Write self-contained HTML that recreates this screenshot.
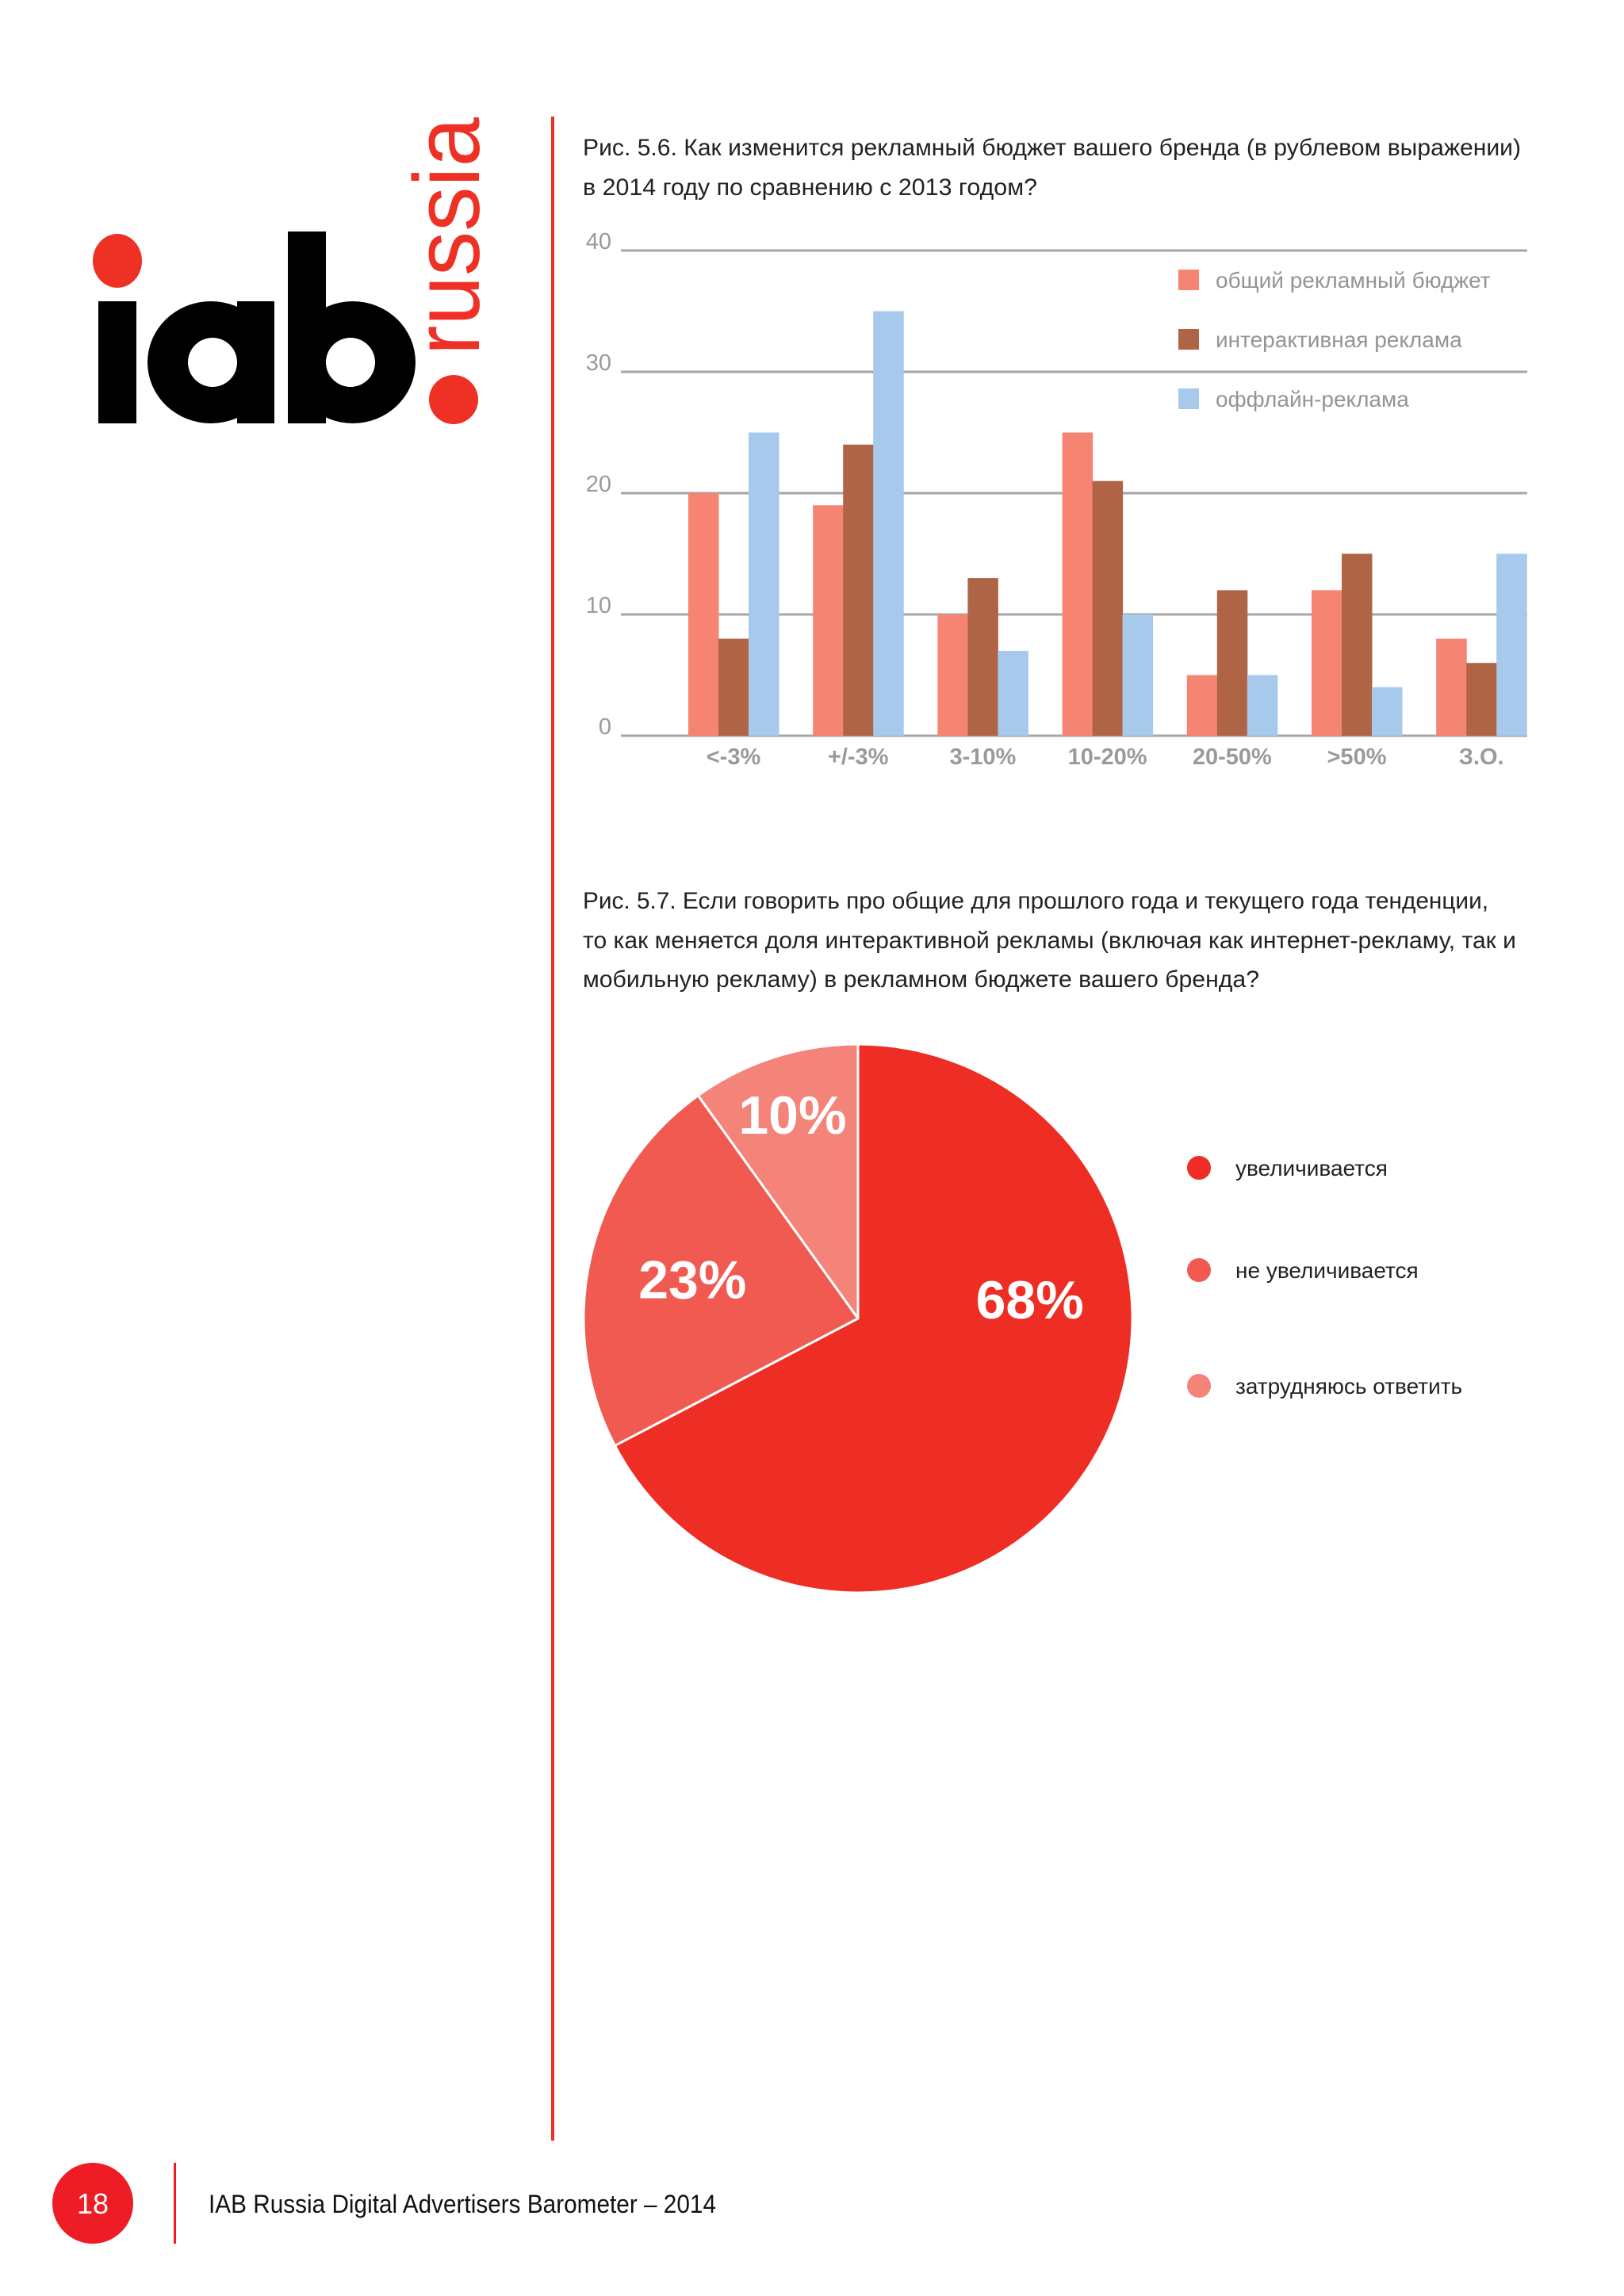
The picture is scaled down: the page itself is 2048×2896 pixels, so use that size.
<!DOCTYPE html>
<html><head><meta charset="utf-8">
<style>
html,body{margin:0;padding:0;background:#fff;}
svg{display:block;}
text{font-family:"Liberation Sans","DejaVu Sans",sans-serif;}
</style></head>
<body>
<svg id="page" width="2048" height="2896" viewBox="0 0 2048 2896" xmlns="http://www.w3.org/2000/svg">
<rect width="2048" height="2896" fill="#ffffff"/>
<g>
  <ellipse cx="148" cy="329" rx="31" ry="34" fill="#ee3124"/>
  <rect x="124" y="380" width="48" height="154" fill="#000"/>
  <ellipse cx="266" cy="457" rx="80" ry="77" fill="#000"/>
  <rect x="299" y="380" width="47" height="154" fill="#000"/>
  <ellipse cx="268" cy="457" rx="31" ry="31" fill="#fff"/>
  <rect x="363" y="292" width="48" height="242" fill="#000"/>
  <ellipse cx="445" cy="457" rx="79" ry="77" fill="#000"/>
  <ellipse cx="442" cy="457" rx="31" ry="31" fill="#fff"/>
  <ellipse cx="572" cy="504" rx="31" ry="31" fill="#ee3124"/>
  <text transform="translate(604,448) rotate(-90)" font-size="118" fill="#ee3124" textLength="300" lengthAdjust="spacingAndGlyphs">russia</text>
</g>
<rect x="695" y="147" width="4" height="2553" fill="#ee3124"/>

<g font-size="30" fill="#222">
  <text x="735" y="196" textLength="1183" lengthAdjust="spacingAndGlyphs">Рис. 5.6. Как изменится рекламный бюджет вашего бренда (в рублевом выражении)</text>
  <text x="735" y="246" textLength="573" lengthAdjust="spacingAndGlyphs">в 2014 году по сравнению с 2013 годом?</text>
</g>
<g id="barchart"></g>

<g font-size="30" fill="#222">
  <text x="735" y="1146" textLength="1142" lengthAdjust="spacingAndGlyphs">Рис. 5.7. Если говорить про общие для прошлого года и текущего года тенденции,</text>
  <text x="735" y="1196" textLength="1177" lengthAdjust="spacingAndGlyphs">то как меняется доля интерактивной рекламы (включая как интернет-рекламу, так и</text>
  <text x="735" y="1245" textLength="853" lengthAdjust="spacingAndGlyphs">мобильную рекламу) в рекламном бюджете вашего бренда?</text>
</g>
<g id="piechart"></g>

<g>
  <circle cx="117" cy="2779" r="51" fill="#ee1c25"/>
  <text x="117" y="2792" font-size="36" fill="#fff" text-anchor="middle">18</text>
  <rect x="219" y="2728" width="3" height="102" fill="#ee1c25"/>
  <text x="263" y="2791" font-size="32" fill="#111" textLength="640" lengthAdjust="spacingAndGlyphs">IAB Russia Digital Advertisers Barometer – 2014</text>
</g>
</svg>
<script>
const categories = ["<-3%", "+/-3%", "3-10%", "10-20%", "20-50%", ">50%", "З.О."];
const totalBudget = [20, 19, 10, 25, 5, 12, 8];
const interactive = [8, 24, 13, 21, 12, 15, 6];
const offline = [25, 35, 7, 10, 5, 4, 15];
const yTicks = [0, 10, 20, 30, 40];
const seriesNames = ["общий рекламный бюджет", "интерактивная реклама", "оффлайн-реклама"];
const pieLabels = ["увеличивается", "не увеличивается", "затрудняюсь ответить"];
const pieValues = [68, 23, 10];

const NS = "http://www.w3.org/2000/svg";
function mk(tag, attrs, parent){const e=document.createElementNS(NS,tag);for(const k in attrs)e.setAttribute(k,attrs[k]);parent.appendChild(e);return e;}

// Bar chart
(function(){
  const g = document.getElementById('barchart');
  const x0=783, x1=1926, yTop=316, yBot=928, maxV=40;
  const y = v => yBot - (v/maxV)*(yBot-yTop);
  const groupStart = 868, groupStep = 157.2, barW = 38;
  const colors = ["#f58473", "#b06446", "#a6c9ec"];
  const series = [totalBudget, interactive, offline];
  yTicks.forEach(t=>{
    const ln = mk('line',{x1:x0,x2:x1,y1:y(t),y2:y(t),stroke:'#a6a6a6','stroke-width':3},g);
    
    
    const tx = mk('text',{x:771,y:y(t)-2,'font-size':29,fill:'#9a9a9a','text-anchor':'end'},g);
    tx.textContent=t;
    
    
  });
  categories.forEach((c,i)=>{
    series.forEach((s,j)=>{
      const bx = groupStart + i*groupStep + j*barW;
      const r = mk('rect',{x:bx,y:y(s[i]),width:barW+0.5,height:yBot-y(s[i]),fill:colors[j]},g);
      
      
    });
    const lt = mk('text',{x:groupStart+i*groupStep+barW*1.5,y:964,'font-size':29,'font-weight':'bold',fill:'#9a9a9a','text-anchor':'middle'},g);
    lt.textContent=c;
    
    
  });
  const legY=[353,428,503];
  seriesNames.forEach((n,j)=>{
    const sq = mk('rect',{x:1486,y:legY[j]-13,width:26,height:26,fill:colors[j]},g);
    
    
    const t = mk('text',{x:1533,y:legY[j]+10,'font-size':28,fill:'#949494'},g);
    t.textContent=n;
    
    
  });
})();

// Pie chart
(function(){
  const g = document.getElementById('piechart');
  const cx=1082, cy=1663, R=346;
  const colors=["#ee2e24","#f05a50","#f4837a"];
  const total = pieValues.reduce((a,b)=>a+b,0);
  let a0 = 0;
  const pt = (a,r)=>[cx+r*Math.sin(a), cy-r*Math.cos(a)];
  pieValues.forEach((v,i)=>{
    const a1 = a0 + v/total*2*Math.PI;
    const p0=pt(a0,R), p1=pt(a1,R);
    const large = (a1-a0)>Math.PI?1:0;
    const p = mk('path',{d:`M${cx},${cy} L${p0[0]},${p0[1]} A${R},${R} 0 ${large} 1 ${p1[0]},${p1[1]} Z`,fill:colors[i],stroke:'#fff','stroke-width':3,'stroke-linejoin':'round'},g);
    
    
    const am = i===0 ? a0+(a1-a0)*0.345 : (a0+a1)/2;
    const rr = i===0?0.63:(i===1?0.62:0.78);
    const lp = pt(am,R*rr);
    const t = mk('text',{x:lp[0],y:lp[1]+24,'font-size':68,'font-weight':'bold',fill:'#fff','text-anchor':'middle'},g);
    t.textContent = v+'%';
    
    
    a0=a1;
  });
  const ly=[1473,1602,1748];
  pieLabels.forEach((n,i)=>{
    const c = mk('circle',{cx:1512,cy:ly[i],r:15,fill:colors[i]},g);
    
    
    const t = mk('text',{x:1558,y:ly[i]+10,'font-size':28,fill:'#222'},g);
    t.textContent=n;
    
    
  });
})();
</script>
</body></html>
